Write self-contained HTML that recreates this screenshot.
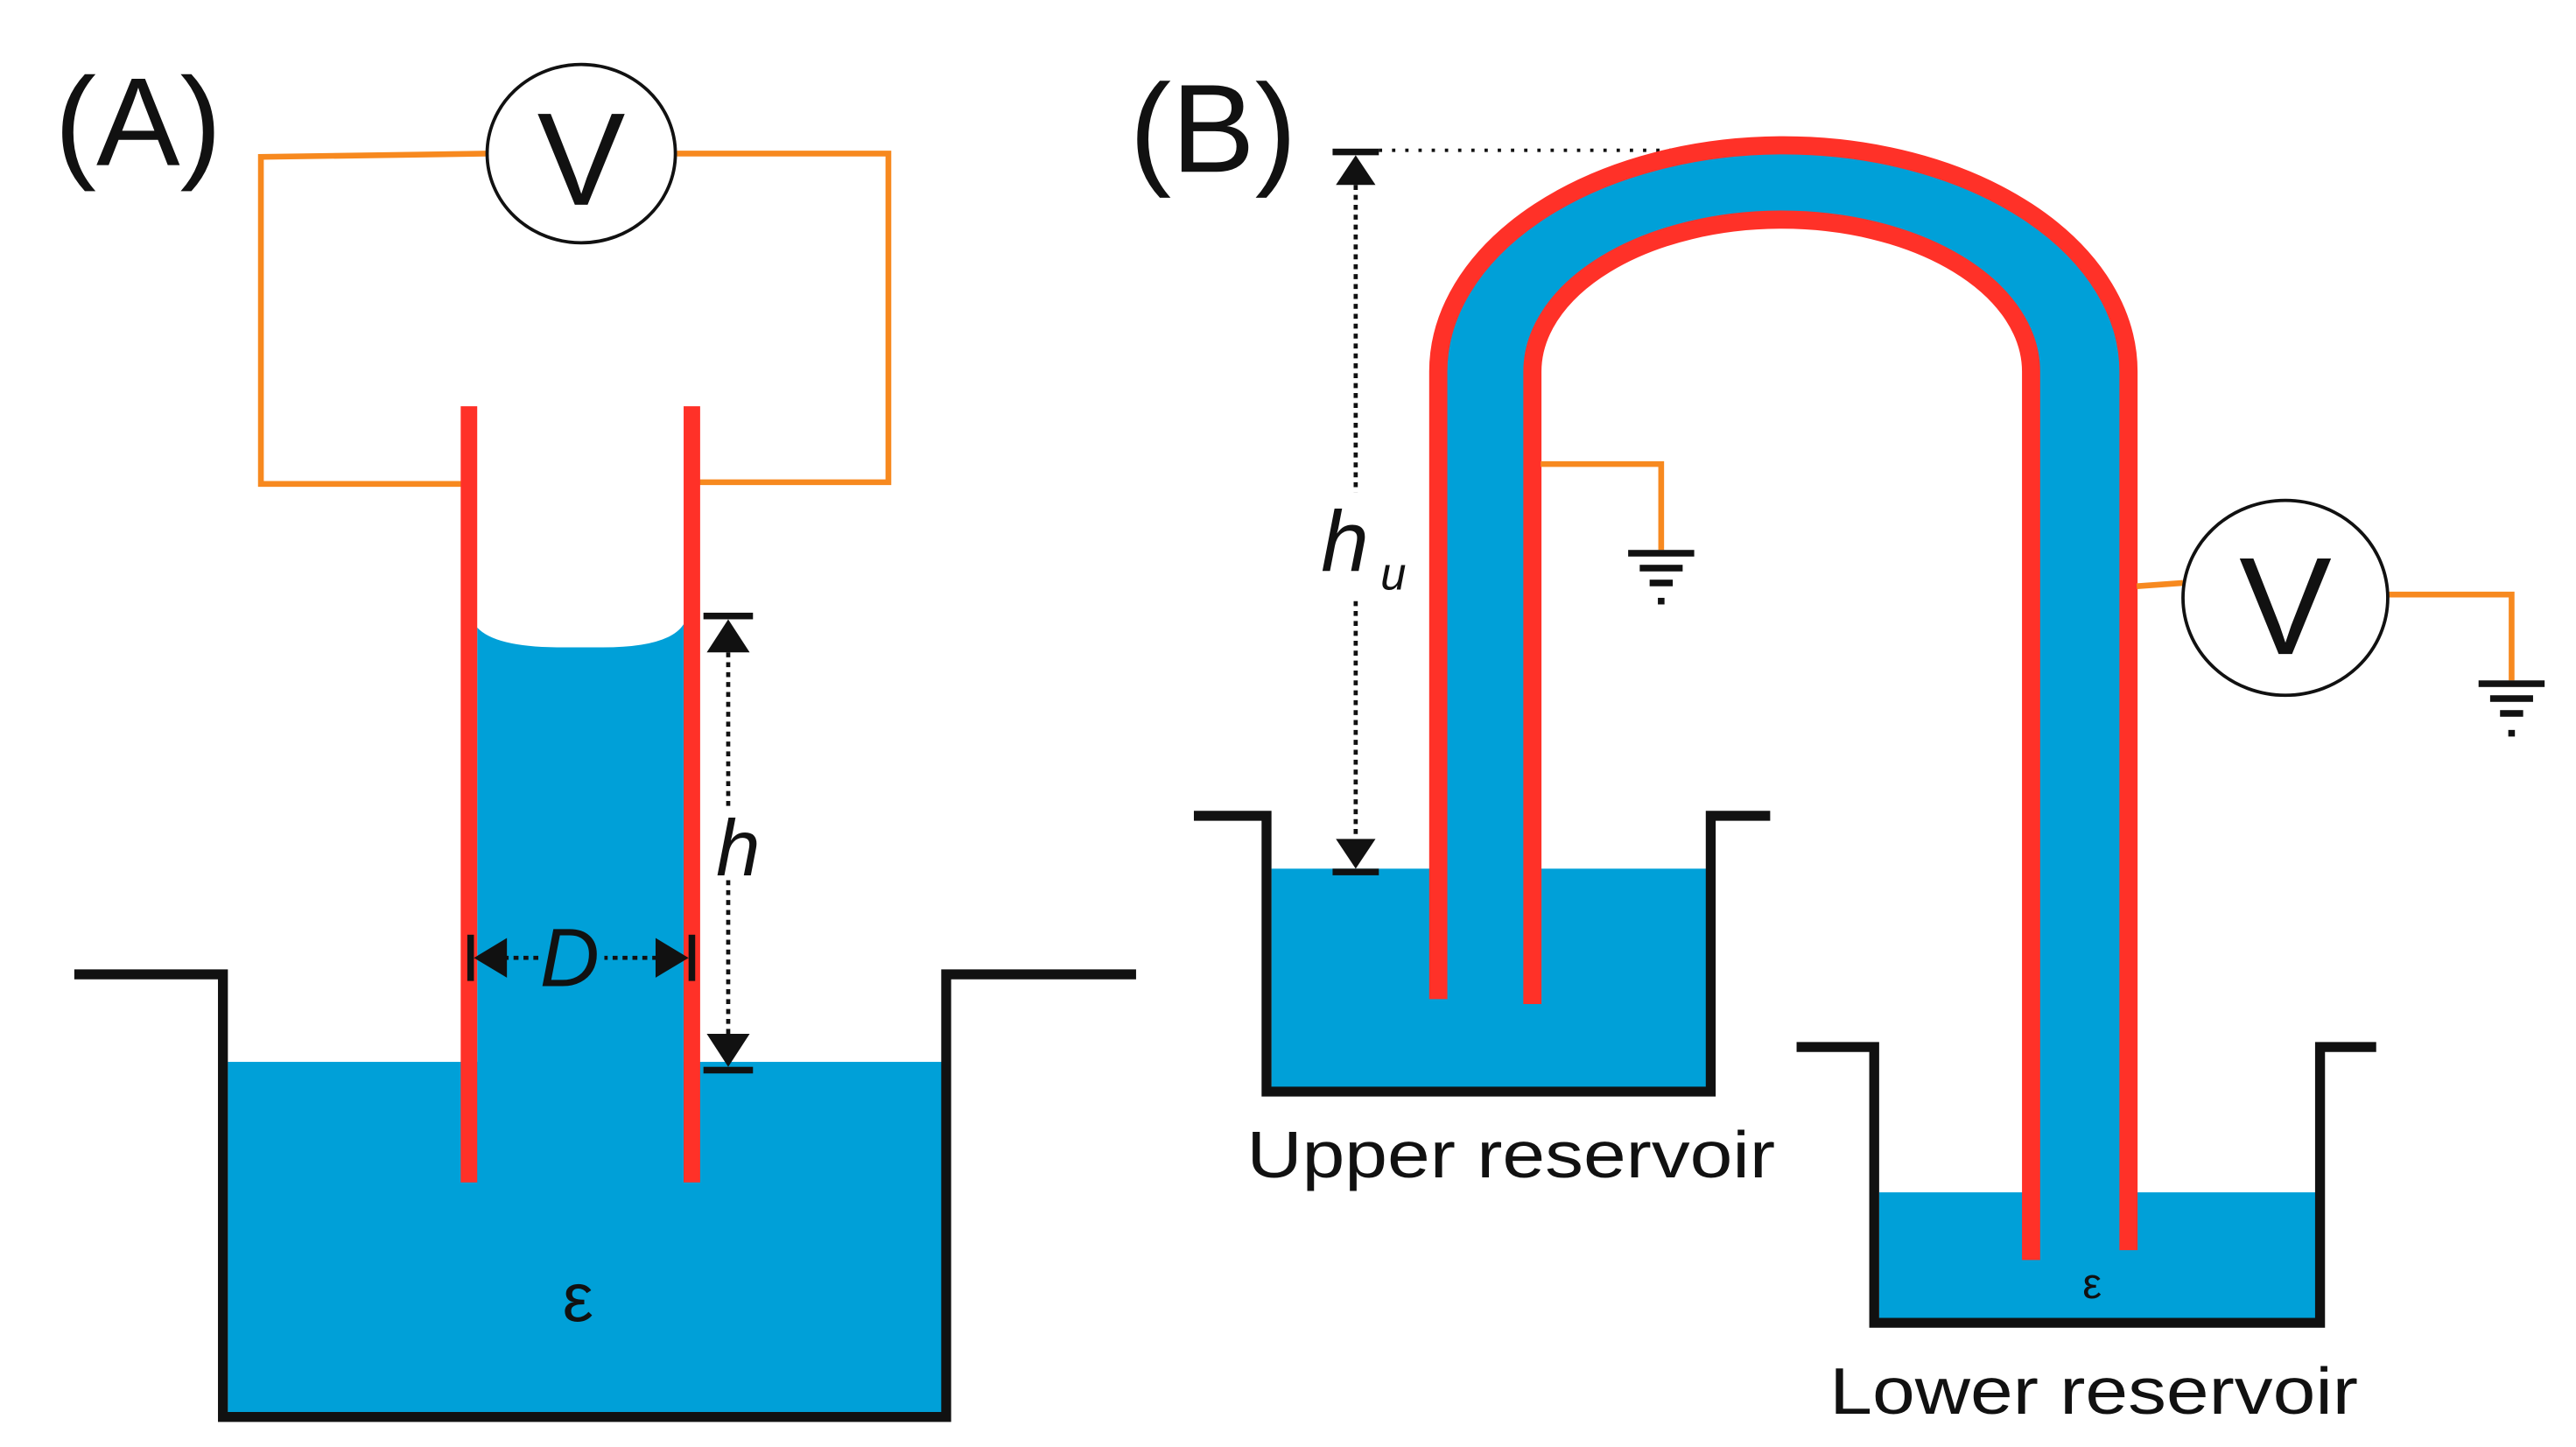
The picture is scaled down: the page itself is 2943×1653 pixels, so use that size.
<!DOCTYPE html>
<html><head><meta charset="utf-8"><style>
html,body{margin:0;padding:0;background:#fff;}
svg{display:block;}
text{font-family:"Liberation Sans",sans-serif;}
</style></head><body>
<svg width="2943" height="1653" viewBox="0 0 1560 876.2" xmlns="http://www.w3.org/2000/svg">
<!-- Panel A -->
<text x="33" y="100" font-size="76" fill="#111">(A)</text>
<!-- water -->
<rect x="138" y="643" width="433" height="213" fill="#00a0d8"/>
<path d="M289 380 Q300 392 340 392 L365 392 Q405 392 414 378 L414 645 L289 645 Z" fill="#00a0d8"/>
<!-- reservoir -->
<path d="M45 590 L135 590 L135 858 L573 858 L573 590 L688 590" fill="none" stroke="#111" stroke-width="6"/>
<!-- wires -->
<path d="M295 93 L158 95 L158 293 L283 293" fill="none" stroke="#f7891f" stroke-width="3.5"/>
<path d="M410 93 L538 93 L538 292 L419 292" fill="none" stroke="#f7891f" stroke-width="3.5"/>
<ellipse cx="352" cy="93" rx="57" ry="54" fill="#fff" stroke="#111" stroke-width="2"/>
<text x="352" y="124" font-size="80" text-anchor="middle" fill="#111">V</text>
<!-- tubes -->
<rect x="279" y="246" width="10" height="470" fill="#ff3128"/>
<rect x="414" y="246" width="10" height="470" fill="#ff3128"/>
<!-- h arrow -->
<line x1="441" y1="395" x2="441" y2="628" stroke="#111" stroke-width="2.5" stroke-dasharray="3,3"/>
<rect x="426" y="371" width="30" height="4" fill="#111"/>
<polygon points="441,375 428,395 454,395" fill="#111"/>
<rect x="426" y="646" width="30" height="4" fill="#111"/>
<polygon points="441,646 428,626 454,626" fill="#111"/>
<rect x="434" y="490" width="16" height="42" fill="#fff"/>
<text x="447" y="530" font-size="48" font-style="italic" text-anchor="middle" fill="#111">h</text>
<!-- D arrow -->
<line x1="305" y1="580" x2="398" y2="580" stroke="#111" stroke-width="2.5" stroke-dasharray="3,3"/>
<rect x="283" y="566" width="4" height="28" fill="#111"/>
<polygon points="287,580 307,568 307,592" fill="#111"/>
<rect x="417" y="566" width="4" height="28" fill="#111"/>
<polygon points="417,580 397,568 397,592" fill="#111"/>
<rect x="326" y="560" width="40" height="40" fill="#00a0d8"/>
<text x="345" y="597" font-size="50" font-style="italic" text-anchor="middle" fill="#111">D</text>
<text x="350" y="800" font-size="42" text-anchor="middle" fill="#111" font-family="Liberation Serif, serif">ε</text>

<!-- Panel B -->
<text x="684" y="104" font-size="76" fill="#111">(B)</text>
<line x1="835" y1="91" x2="1090" y2="91" stroke="#111" stroke-width="2" stroke-dasharray="2,6"/>
<!-- upper reservoir -->
<rect x="770" y="526" width="264" height="133" fill="#00a0d8"/>
<path d="M723 494 L767 494 L767 661 L1036 661 L1036 494 L1072 494" fill="none" stroke="#111" stroke-width="6"/>
<!-- lower reservoir -->
<rect x="1138" y="722" width="265" height="77" fill="#00a0d8"/>
<path d="M1088 634 L1135 634 L1135 801 L1405 801 L1405 634 L1439 634" fill="none" stroke="#111" stroke-width="6"/>
<!-- arch tube -->
<path d="M871 605 L871 225 A209 137 0 0 1 1289 225 L1289 757 L1230 762 L1230 225 A151 92 0 0 0 928 225 L928 608 Z" fill="#00a0d8"/>
<path d="M871 605 L871 225 A209 137 0 0 1 1289 225 L1289 757" fill="none" stroke="#ff3128" stroke-width="11"/>
<path d="M928 608 L928 225 A151 92 0 0 1 1230 225 L1230 763" fill="none" stroke="#ff3128" stroke-width="11"/>
<!-- hu arrow -->
<line x1="821" y1="112" x2="821" y2="508" stroke="#111" stroke-width="2.5" stroke-dasharray="3,3"/>
<rect x="807" y="90" width="28" height="4" fill="#111"/>
<polygon points="821,94 809,112 833,112" fill="#111"/>
<rect x="807" y="526" width="28" height="4" fill="#111"/>
<polygon points="821,526 809,508 833,508" fill="#111"/>
<rect x="800" y="298" width="60" height="64" fill="#fff"/>
<text x="800" y="346" font-size="52" font-style="italic" fill="#111">h</text>
<text x="836" y="357" font-size="28" font-style="italic" fill="#111">u</text>
<!-- ground wire 1 -->
<path d="M933 281 L1006 281 L1006 333" fill="none" stroke="#f7891f" stroke-width="3.5"/>
<rect x="986" y="333" width="40" height="4" fill="#111"/>
<rect x="993" y="342" width="26" height="4" fill="#111"/>
<rect x="999" y="351" width="14" height="4" fill="#111"/>
<rect x="1004" y="362" width="4" height="4" fill="#111"/>
<!-- V right -->
<path d="M1294 355 L1322 353" fill="none" stroke="#f7891f" stroke-width="3.5"/>
<path d="M1446 360 L1521 360 L1521 412" fill="none" stroke="#f7891f" stroke-width="3.5"/>
<ellipse cx="1384" cy="362" rx="62" ry="59" fill="#fff" stroke="#111" stroke-width="2"/>
<text x="1384" y="396" font-size="84" text-anchor="middle" fill="#111">V</text>
<rect x="1501" y="412" width="40" height="4" fill="#111"/>
<rect x="1508" y="421" width="26" height="4" fill="#111"/>
<rect x="1514" y="430" width="14" height="4" fill="#111"/>
<rect x="1519" y="442" width="4" height="4" fill="#111"/>
<text x="1267" y="786" font-size="26" text-anchor="middle" fill="#111" font-family="Liberation Serif, serif">ε</text>
<text x="755" y="713" font-size="40" fill="#111" textLength="320" lengthAdjust="spacingAndGlyphs">Upper reservoir</text>
<text x="1108" y="856" font-size="40" fill="#111" textLength="320" lengthAdjust="spacingAndGlyphs">Lower reservoir</text>
</svg>
</body></html>
